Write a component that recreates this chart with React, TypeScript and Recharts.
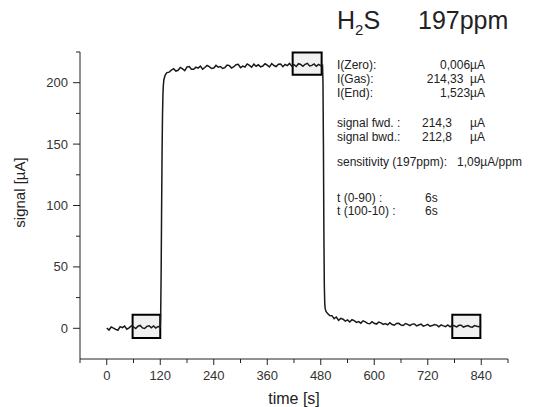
import { LineChart, Line, XAxis, YAxis, ReferenceArea } from 'recharts'

// time [s], signal [µA]
const baseline = [
  [0, 0.3], [5, -1.4], [10, 1.1], [15, 0.2], [20, -0.9], [25, -1.6], [30, 1.3], [35, 0.5],
  [40, 1.8], [45, -0.7], [50, 0.4], [55, 2.0], [60, 1.1], [65, -0.2], [70, 1.7], [75, 2.3],
  [80, 0.3], [85, -0.1], [90, 1.6], [95, 2.1], [100, 0.4], [105, 1.9], [110, 0.2], [115, 1.5],
  [120, 1.1],
]
const rise = [
  [121, 12], [122, 45], [123, 95], [124, 140], [125, 172], [126, 190], [127, 198], [128, 202],
  [130, 205], [132, 206.8], [135, 208.2],
]
const plateau = [
  [140, 208.6], [145, 210.3], [150, 211.4], [155, 209.5], [160, 210.1], [165, 212.4], [170, 211.2],
  [175, 209.8], [180, 212.9], [185, 213.1], [190, 211.0], [195, 210.9], [200, 212.7], [205, 211.9],
  [210, 213.5], [215, 211.0], [220, 212.4], [225, 214.0], [230, 213.1], [235, 211.6], [240, 212.0],
  [245, 214.1], [250, 212.6], [255, 213.2], [260, 211.6], [265, 212.3], [270, 214.4], [275, 213.9],
  [280, 211.9], [285, 213.0], [290, 214.6], [295, 215.0], [300, 212.2], [305, 213.5], [310, 212.8],
  [315, 215.3], [320, 214.1], [325, 212.6], [330, 215.1], [335, 213.4], [340, 214.6], [345, 212.9],
  [350, 213.6], [355, 215.4], [360, 214.3], [365, 212.8], [370, 215.6], [375, 214.0], [380, 213.2],
  [385, 215.1], [390, 215.2], [395, 213.0], [400, 214.8], [405, 213.9], [410, 215.7], [415, 213.5],
  [420, 214.6], [425, 213.2], [430, 215.5], [435, 214.8], [440, 213.3], [445, 215.0], [450, 215.8],
  [455, 213.6], [460, 214.1], [465, 215.3], [470, 213.4], [475, 214.9], [480, 213.8], [484, 214.2],
]
const fall = [
  [485, 200], [486, 150], [487, 80], [488, 35], [489, 20], [490, 16], [492, 13.5], [495, 12.2], [500, 10.4],
]
const recovery = [
  [505, 10.3], [510, 7.9], [515, 9.2], [520, 6.5], [525, 8.1], [530, 7.4], [535, 5.9], [540, 6.8],
  [545, 5.1], [550, 7.0], [555, 6.2], [560, 4.8], [565, 5.5], [570, 4.2], [575, 6.1], [580, 5.3],
  [585, 4.0], [590, 3.7], [595, 5.3], [600, 4.1], [605, 3.4], [610, 5.0], [615, 4.4], [620, 3.2],
  [625, 3.9], [630, 2.8], [635, 4.6], [640, 3.1], [645, 2.5], [650, 3.9], [655, 4.0], [660, 2.6],
  [665, 2.3], [670, 3.9], [675, 3.2], [680, 2.1], [685, 3.4], [690, 3.5], [695, 2.0], [700, 2.7],
  [705, 3.4], [710, 1.8], [715, 2.4], [720, 3.2], [725, 1.7], [730, 2.2], [735, 3.0], [740, 2.6],
  [745, 1.3], [750, 2.8], [755, 2.0], [760, 1.4], [765, 2.7], [770, 1.2], [775, 2.6], [780, 1.9],
  [785, 1.1], [790, 2.4], [795, 2.5], [800, 1.0], [805, 1.7], [810, 2.3], [815, 1.3], [820, 0.9],
  [825, 2.2], [830, 1.6], [835, 1.2], [840, 1.8],
]

const xTicks = [-60, 0, 60, 120, 180, 240, 300, 360, 420, 480, 540, 600, 660, 720, 780, 840, 900]
const yTicks = [0, 25, 50, 75, 100, 125, 150, 175, 200, 225]

// evaluation windows (shaded boxes)
const windows = [
  { x1: 58, x2: 120, y1: -8, y2: 11 },
  { x1: 417, x2: 482, y1: 206.5, y2: 224.5 },
  { x1: 775, x2: 838, y1: -8, y2: 11 },
]

const data = [...baseline, ...rise, ...plateau, ...fall, ...recovery].map(([t, v]) => ({ t, v }))

const axisColor = '#222'

function XTick({ x, y, payload }: any) {
  const major = payload.value % 120 === 0
  return (
    <g>
      <line x1={x} x2={x} y1={y} y2={y + (major ? 6 : 4)} stroke={axisColor} />
      {major && (
        <text x={x} y={y + 21} textAnchor="middle" fontSize={13} fill="#333">{payload.value}</text>
      )}
    </g>
  )
}

function YTick({ x, y, payload }: any) {
  const major = payload.value % 50 === 0
  return (
    <g>
      <line x1={x - (major ? 7 : 4)} x2={x} y1={y} y2={y} stroke={axisColor} />
      {major && (
        <text x={x - 12} y={y + 4.5} textAnchor="end" fontSize={13} fill="#333">{payload.value}</text>
      )}
    </g>
  )
}

function YTitle({ viewBox }: any) {
  const cx = viewBox.x + 20
  const cy = viewBox.y + viewBox.height / 2 - 13
  return (
    <text x={cx} y={cy} transform={`rotate(-90 ${cx} ${cy})`} textAnchor="middle" dy={5} fontSize={15} fill="#222">
      signal [µA]
    </text>
  )
}

const note = (top: number, left: number, text: string, align: 'left' | 'right' = 'left') => (
  <div
    style={{
      position: 'absolute', top: top - 6, fontSize: 12, lineHeight: '12px', color: '#222', whiteSpace: 'pre',
      ...(align === 'left' ? { left } : { right: 538 - left }),
    }}
  >
    {text}
  </div>
)

export default function App() {
  return (
    <div style={{ position: 'absolute', left: 0, top: 0, width: 538, height: 407, background: '#fff', fontFamily: '"Liberation Sans", Arial, sans-serif' }}>
      <LineChart width={538} height={407} data={data} margin={{ top: 52, right: 30, bottom: 0, left: 0 }}>
        <XAxis
          dataKey="t" type="number" domain={[-60, 900]} ticks={xTicks} interval={0} allowDataOverflow
          height={48} tickSize={0} tickMargin={0} tickLine={false} stroke={axisColor}
          tick={(p: any) => <XTick {...p} />}
          label={{ value: 'time [s]', position: 'insideBottom', offset: 3, fontSize: 16, fill: '#222' }}
        />
        <YAxis
          type="number" domain={[-25, 225]} ticks={yTicks} interval={0} allowDataOverflow
          width={80} tickSize={0} tickMargin={0} tickLine={false} stroke={axisColor}
          tick={(p: any) => <YTick {...p} />}
          label={<YTitle />}
        />
        <Line dataKey="v" type="linear" stroke="#1a1a1a" strokeWidth={1.5} dot={false} isAnimationActive={false} />
        {windows.map((w, i) => (
          <ReferenceArea key={i} x1={w.x1} x2={w.x2} y1={w.y1} y2={w.y2} fill="#eeeeee" fillOpacity={0.85} stroke="#000" strokeWidth={2} ifOverflow="visible" />
        ))}
      </LineChart>

      <div style={{ position: 'absolute', left: 337, top: 6, fontSize: 25, lineHeight: '29px', color: '#222', whiteSpace: 'pre' }}>
        H<sub style={{ fontSize: 15, lineHeight: 0 }}>2</sub>S
      </div>
      <div style={{ position: 'absolute', left: 418, top: 6, fontSize: 25, lineHeight: '29px', color: '#222' }}>197ppm</div>

      {note(65, 337, 'I(Zero):')}
      {note(65, 485, '0,006µA', 'right')}
      {note(79, 337, 'I(Gas):')}
      {note(79, 485, '214,33  µA', 'right')}
      {note(93, 337, 'I(End):')}
      {note(93, 485, '1,523µA', 'right')}

      {note(123, 337, 'signal fwd. :')}
      {note(123, 422, '214,3')}
      {note(123, 470, 'µA')}
      {note(137, 337, 'signal bwd.:')}
      {note(137, 422, '212,8')}
      {note(137, 470, 'µA')}

      {note(162, 337, 'sensitivity (197ppm):')}
      {note(162, 457, '1,09µA/ppm')}

      {note(198, 337, 't (0-90) :')}
      {note(198, 425, '6s')}
      {note(211, 337, 't (100-10) :')}
      {note(211, 425, '6s')}
    </div>
  )
}
